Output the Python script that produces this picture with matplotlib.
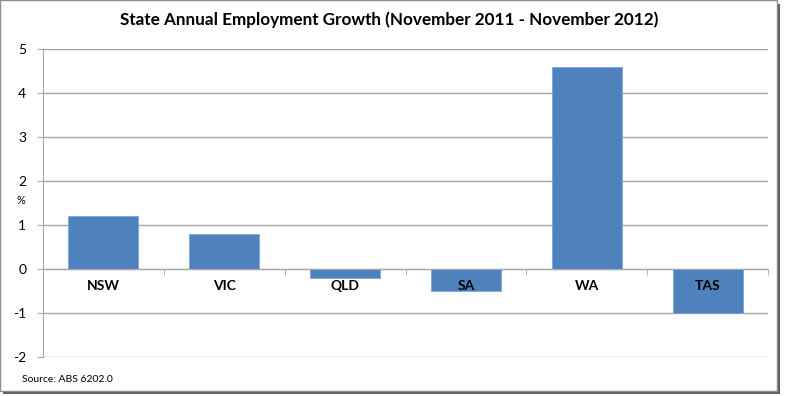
import numpy as np
import matplotlib.pyplot as plt
from matplotlib.patches import Rectangle

states = ['NSW', 'VIC', 'QLD', 'SA', 'WA', 'TAS']
growth = [1.2, 0.8, -0.2, -0.5, 4.6, -1.0]
yticks = [-2, -1, 0, 1, 2, 3, 4, 5]

plt.rcParams['font.family'] = ['Lato', 'DejaVu Sans']

fig = plt.figure(figsize=(7.85, 3.96), dpi=100)
# frame with shadow
fig.patches.append(Rectangle((0.004, 0.004), 0.99, 0.985, transform=fig.transFigure,
                             facecolor='#606060', edgecolor='none', zorder=-2))
fig.patches.append(Rectangle((0.0, 0.012), 0.99, 0.987, transform=fig.transFigure,
                             facecolor='white', edgecolor='#8c8c8c', lw=1, zorder=-1))

ax = fig.add_axes([43/785, 1 - 357/396, (768-43)/785, (357-49)/396])
ax.set_facecolor('none')
x = np.arange(len(states))
ax.bar(x, growth, width=0.58, color='#4f81bd', edgecolor='#7ea6d6', lw=0.6, zorder=3)

ax.set_xlim(-0.5, len(states) - 0.5)
ax.set_ylim(-2, 5)
ax.set_yticks(yticks)
ax.set_yticklabels([str(v) for v in yticks], fontsize=10)
ax.grid(axis='y', color='#a6a6a6', lw=1, zorder=0)

ax.spines['top'].set_visible(False)
ax.spines['right'].set_visible(False)
ax.spines['left'].set_color('#a6a6a6')
ax.spines['bottom'].set_position(('data', 0))
ax.spines['bottom'].set_color('#a6a6a6')
ax.spines['bottom'].set_zorder(4)

ax.set_xticks(x)
ax.set_xticklabels(states, fontsize=10, fontweight='bold')
ax.tick_params(axis='x', which='major', length=0, pad=8)
ax.set_xticks(np.arange(-0.5, len(states)), minor=True)
ax.tick_params(axis='x', which='minor', length=4, color='#a6a6a6', direction='out')
ax.tick_params(axis='y', length=4, color='#a6a6a6', pad=8)
ax.xaxis.set_zorder(5)  # category labels drawn over the negative bars

fig.text(389/785, 1 - 20/396, 'State Annual Employment Growth (November 2011 - November 2012)',
         ha='center', va='center', fontsize=12.3, fontweight='bold')
fig.text(21/785, 1 - 201/396, '%', ha='center', va='center', fontsize=8)
fig.text(22/785, 1 - 380/396, 'Source: ABS 6202.0', ha='left', va='center', fontsize=7.5)

fig.savefig('out.png', dpi=100)
